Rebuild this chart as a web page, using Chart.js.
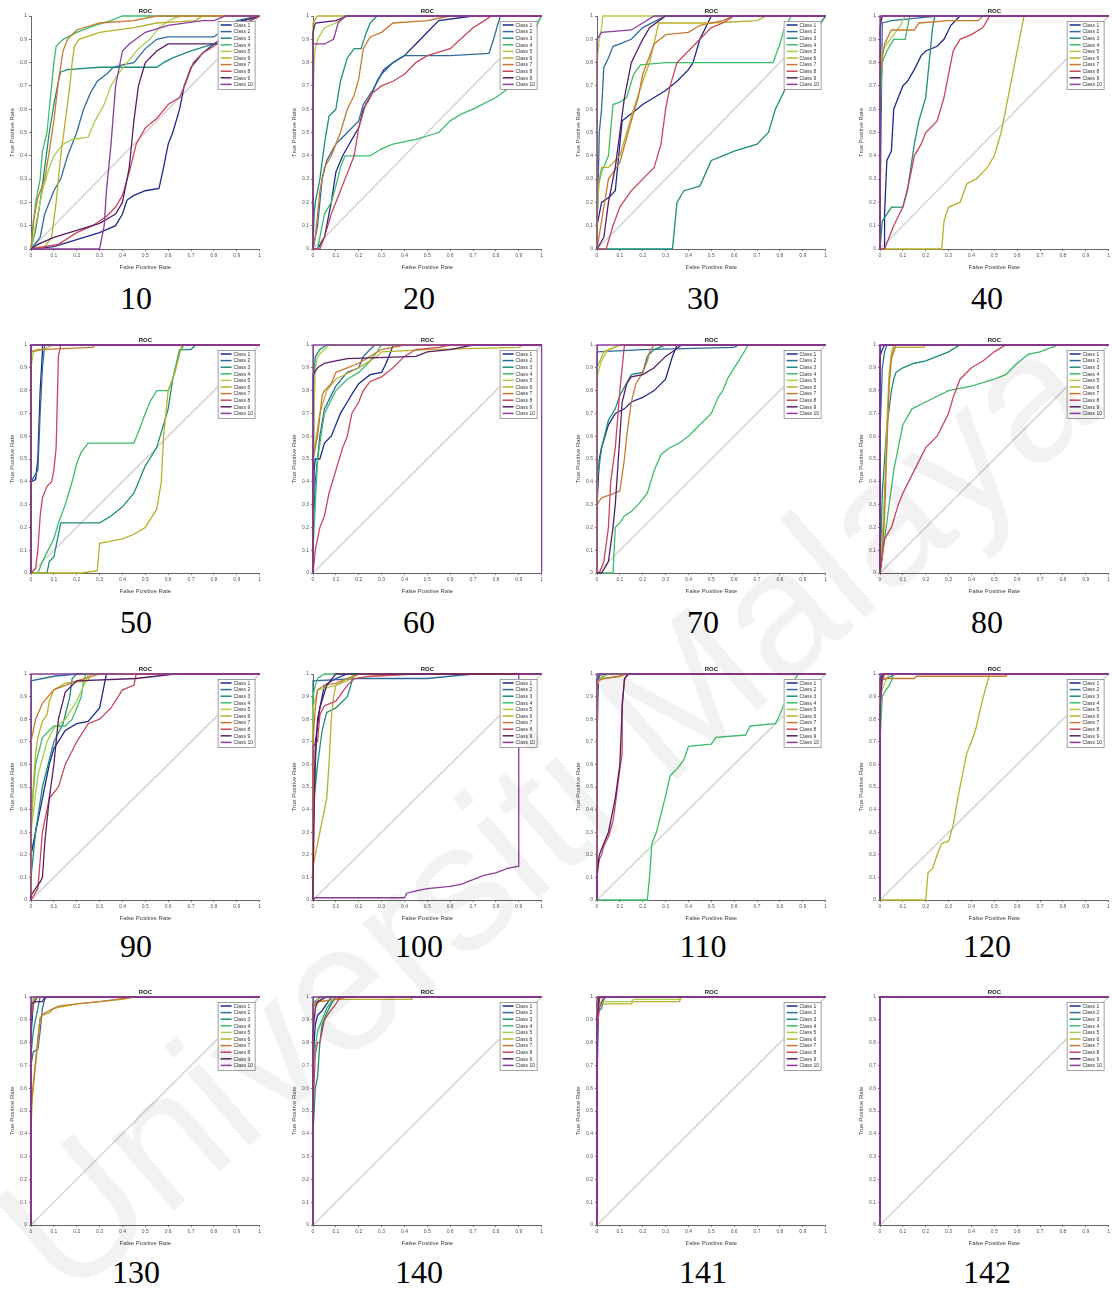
<!DOCTYPE html>
<html>
<head>
<meta charset="utf-8">
<script src="https://cdn.jsdelivr.net/npm/chart.js@4.4.0/dist/chart.umd.min.js"></script>
<style>
  html, body { margin: 0; padding: 0; background: #fff; }
  body { position: relative; width: 1112px; height: 1289px; overflow: hidden; }
  canvas { position: absolute; }
  .cap { position: absolute; font-family: "Liberation Serif", "Times New Roman", serif; font-size: 32px; color: #000; transform: translate(-50%, -50%); white-space: nowrap; }
  .wm { position: absolute; left: 545px; top: 810px; transform: translate(-50%, -50%) rotate(-40.6deg); font-family: "Liberation Sans", Arial, sans-serif; font-size: 180px; color: rgba(0,0,0,0.05); white-space: nowrap; pointer-events: none; z-index: 5; }
</style>
</head>
<body>
<script>
// ---- data: each panel = 10 ROC curves as [fpr, tpr] points ----
const captions = ['10', '20', '30', '40', '50', '60', '70', '80', '90', '100', '110', '120', '130', '140', '141', '142'];
const classNames = ['Class 1', 'Class 2', 'Class 3', 'Class 4', 'Class 5', 'Class 6', 'Class 7', 'Class 8', 'Class 9', 'Class 10'];
const classColors = ['#1b2a8c', '#2f6c9e', '#1e8c7c', '#3dbd6a', '#a4d04a', '#b8b02a', '#c77a32', '#c8465a', '#5a1e66', '#8c3c9c'];

const roc10 = [
  [[0,0],[0.1,0.01],[0.2,0.04],[0.3,0.07],[0.37,0.1],[0.4,0.15],[0.42,0.21],[0.45,0.23],[0.5,0.25],[0.56,0.26],[0.58,0.35],[0.6,0.45],[0.62,0.5],[0.65,0.6],[0.67,0.7],[0.7,0.78],[0.75,0.84],[0.8,0.88],[0.83,0.9],[0.92,0.98],[1,1]],
  [[0,0],[0.04,0.05],[0.06,0.15],[0.1,0.25],[0.13,0.3],[0.16,0.4],[0.2,0.5],[0.23,0.6],[0.26,0.67],[0.29,0.72],[0.33,0.75],[0.36,0.78],[0.4,0.79],[0.45,0.8],[0.5,0.86],[0.55,0.9],[0.6,0.91],[0.8,0.91],[0.85,0.95],[0.9,0.98],[1,1]],
  [[0,0],[0.02,0.08],[0.04,0.2],[0.06,0.35],[0.08,0.5],[0.1,0.62],[0.12,0.72],[0.13,0.76],[0.16,0.77],[0.3,0.78],[0.55,0.78],[0.58,0.8],[0.62,0.82],[0.7,0.85],[0.8,0.88],[0.85,0.9],[0.9,0.95],[1,1]],
  [[0,0],[0.01,0.1],[0.02,0.2],[0.04,0.3],[0.05,0.42],[0.07,0.5],[0.08,0.6],[0.1,0.8],[0.11,0.87],[0.14,0.9],[0.2,0.93],[0.28,0.96],[0.35,0.98],[0.4,1],[1,1]],
  [[0,0],[0.02,0.1],[0.05,0.25],[0.08,0.35],[0.1,0.4],[0.14,0.45],[0.18,0.47],[0.25,0.48],[0.28,0.55],[0.32,0.62],[0.35,0.7],[0.38,0.75],[0.42,0.8],[0.47,0.86],[0.52,0.9],[0.56,0.95],[0.62,0.99],[0.66,1],[1,1]],
  [[0,0],[0.06,0.01],[0.09,0.05],[0.11,0.2],[0.13,0.4],[0.15,0.55],[0.17,0.7],[0.18,0.8],[0.19,0.87],[0.21,0.9],[0.3,0.93],[0.45,0.95],[0.55,0.97],[0.72,0.98],[0.75,1],[1,1]],
  [[0,0],[0.01,0.12],[0.03,0.22],[0.06,0.3],[0.08,0.42],[0.1,0.55],[0.12,0.72],[0.14,0.85],[0.16,0.9],[0.2,0.94],[0.3,0.97],[0.45,0.98],[0.55,1],[1,1]],
  [[0,0],[0.12,0.02],[0.2,0.07],[0.27,0.1],[0.33,0.14],[0.37,0.18],[0.4,0.23],[0.43,0.33],[0.46,0.45],[0.5,0.52],[0.55,0.56],[0.6,0.62],[0.65,0.65],[0.68,0.72],[0.71,0.8],[0.75,0.84],[0.8,0.87],[0.85,0.91],[0.9,0.95],[1,1]],
  [[0,0],[0.03,0.02],[0.1,0.05],[0.2,0.08],[0.3,0.11],[0.37,0.15],[0.4,0.2],[0.43,0.35],[0.45,0.55],[0.47,0.7],[0.5,0.8],[0.55,0.85],[0.6,0.88],[0.82,0.88],[0.9,0.97],[1,1]],
  [[0,0],[0.3,0],[0.32,0.1],[0.33,0.25],[0.35,0.45],[0.37,0.7],[0.4,0.85],[0.43,0.88],[0.5,0.93],[0.6,0.96],[0.75,0.98],[0.8,0.98],[0.85,1],[1,1]]
];
const roc20 = [
  [[0,0],[0.02,0],[0.05,0.05],[0.08,0.2],[0.1,0.33],[0.13,0.4],[0.17,0.47],[0.2,0.52],[0.22,0.6],[0.25,0.65],[0.28,0.72],[0.31,0.77],[0.35,0.8],[0.4,0.83],[0.45,0.88],[0.5,0.93],[0.55,0.98],[0.7,1],[1,1]],
  [[0,0],[0.02,0.1],[0.04,0.3],[0.06,0.38],[0.1,0.45],[0.15,0.5],[0.2,0.55],[0.22,0.62],[0.26,0.68],[0.3,0.75],[0.35,0.8],[0.4,0.83],[0.6,0.83],[0.77,0.84],[0.79,0.9],[0.81,0.97],[0.82,1],[1,1]],
  [[0,0],[0.005,0.15],[0.01,0.2],[0.03,0.3],[0.05,0.45],[0.07,0.57],[0.1,0.6],[0.12,0.72],[0.15,0.82],[0.18,0.86],[0.21,0.86],[0.23,0.92],[0.25,0.97],[0.28,1],[1,1]],
  [[0,0],[0.02,0],[0.05,0.15],[0.08,0.2],[0.1,0.27],[0.12,0.35],[0.14,0.4],[0.25,0.4],[0.3,0.43],[0.35,0.45],[0.45,0.47],[0.55,0.5],[0.6,0.55],[0.65,0.58],[0.7,0.6],[0.8,0.65],[0.87,0.7],[0.95,0.9],[1,1]],
  [[0,0],[0,0.6],[0.005,0.8],[0.01,0.86],[0.02,0.9],[0.05,0.95],[0.1,0.97],[0.15,1],[1,1]],
  [[0,0],[0,0.97],[0.02,1],[1,1]],
  [[0,0],[0.01,0.05],[0.03,0.25],[0.05,0.35],[0.08,0.4],[0.12,0.5],[0.15,0.6],[0.18,0.66],[0.2,0.73],[0.22,0.86],[0.25,0.91],[0.3,0.93],[0.35,0.97],[0.5,0.98],[0.6,1],[1,1]],
  [[0,0],[0.03,0],[0.05,0.05],[0.08,0.15],[0.12,0.25],[0.16,0.35],[0.18,0.4],[0.2,0.52],[0.23,0.62],[0.26,0.67],[0.3,0.7],[0.35,0.72],[0.4,0.75],[0.45,0.8],[0.5,0.83],[0.6,0.86],[0.7,0.95],[0.75,0.98],[0.78,1],[1,1]],
  [[0,0],[0,0.93],[0.01,0.97],[0.1,0.98],[0.15,1],[1,1]],
  [[0,0],[0,0.88],[0.05,0.88],[0.09,0.9],[0.11,0.97],[0.14,1],[1,1]]
];
const roc30 = [
  [[0,0],[0,0.1],[0.02,0.2],[0.05,0.22],[0.08,0.25],[0.1,0.45],[0.11,0.55],[0.15,0.58],[0.2,0.62],[0.25,0.65],[0.3,0.68],[0.35,0.72],[0.4,0.77],[0.42,0.8],[0.45,0.9],[0.5,1],[1,1]],
  [[0,0],[0,0.05],[0.01,0.5],[0.02,0.6],[0.03,0.78],[0.05,0.82],[0.07,0.87],[0.1,0.88],[0.15,0.9],[0.2,0.95],[0.3,1],[1,1]],
  [[0,0],[0.33,0],[0.34,0.1],[0.35,0.2],[0.38,0.25],[0.45,0.27],[0.5,0.38],[0.55,0.4],[0.6,0.42],[0.7,0.45],[0.75,0.5],[0.78,0.6],[0.82,0.68],[0.85,0.75],[0.9,0.85],[1,1]],
  [[0,0],[0,0.25],[0.02,0.33],[0.05,0.4],[0.07,0.62],[0.1,0.63],[0.13,0.65],[0.16,0.75],[0.19,0.79],[0.3,0.8],[0.77,0.8],[0.8,0.88],[0.82,0.95],[0.85,1],[1,1]],
  [[0,0],[0,0.8],[0.01,0.9],[0.02,0.95],[0.025,1],[1,1]],
  [[0,0],[0,0.15],[0.01,0.3],[0.02,0.35],[0.05,0.35],[0.1,0.4],[0.13,0.5],[0.16,0.6],[0.2,0.72],[0.23,0.8],[0.27,0.97],[0.5,0.97],[0.7,0.98],[0.74,1],[1,1]],
  [[0,0],[0.05,0.3],[0.1,0.37],[0.15,0.55],[0.18,0.65],[0.2,0.75],[0.25,0.88],[0.3,0.92],[0.4,0.93],[0.45,0.96],[0.55,0.98],[0.6,1],[1,1]],
  [[0,0],[0.04,0],[0.07,0.1],[0.1,0.18],[0.15,0.25],[0.2,0.3],[0.25,0.35],[0.28,0.45],[0.3,0.6],[0.32,0.7],[0.35,0.8],[0.4,0.85],[0.45,0.9],[0.5,0.95],[0.55,0.97],[0.6,1],[1,1]],
  [[0,0],[0.03,0.05],[0.05,0.2],[0.08,0.35],[0.1,0.5],[0.12,0.65],[0.15,0.8],[0.2,0.9],[0.23,0.95],[0.3,1],[1,1]],
  [[0,0],[0,0.9],[0.02,0.93],[0.15,0.94],[0.2,0.97],[0.25,1],[1,1]]
];
const roc40 = [
  [[0,0],[0.02,0],[0.02,0.15],[0.03,0.38],[0.05,0.42],[0.06,0.6],[0.08,0.65],[0.1,0.7],[0.12,0.72],[0.15,0.77],[0.18,0.83],[0.2,0.85],[0.25,0.87],[0.28,0.9],[0.31,0.96],[0.35,1],[1,1]],
  [[0,0],[0,0.13],[0.01,0.97],[0.05,0.98],[0.15,0.99],[0.25,1],[1,1]],
  [[0,0],[0.01,0.12],[0.03,0.15],[0.05,0.18],[0.1,0.18],[0.12,0.25],[0.15,0.45],[0.17,0.55],[0.2,0.65],[0.22,0.85],[0.23,0.95],[0.24,1],[1,1]],
  [[0,0],[0,0.6],[0.01,0.8],[0.03,0.85],[0.06,0.9],[0.11,0.9],[0.12,0.95],[0.13,1],[1,1]],
  [[0,0],[0,0.75],[0.01,0.85],[0.03,0.88],[0.06,0.92],[0.09,0.96],[0.11,1],[1,1]],
  [[0,0],[0.27,0],[0.28,0.12],[0.3,0.18],[0.35,0.2],[0.38,0.28],[0.42,0.3],[0.47,0.35],[0.5,0.4],[0.53,0.5],[0.55,0.6],[0.57,0.7],[0.6,0.85],[0.63,1],[1,1]],
  [[0,0],[0,0.75],[0.02,0.88],[0.05,0.94],[0.15,0.94],[0.17,0.97],[0.3,0.98],[0.43,0.98],[0.45,1],[1,1]],
  [[0,0],[0.02,0],[0.04,0.05],[0.06,0.1],[0.1,0.18],[0.13,0.3],[0.15,0.4],[0.18,0.45],[0.2,0.5],[0.25,0.55],[0.28,0.65],[0.3,0.75],[0.32,0.85],[0.35,0.9],[0.4,0.92],[0.45,0.95],[0.48,1],[1,1]],
  [[0,0],[0,0.95],[0.01,1],[1,1]],
  [[0,0],[0,1],[1,1]]
];
const roc50 = [
  [[0,0],[0,0.4],[0.02,0.41],[0.03,0.5],[0.04,0.8],[0.05,0.97],[0.05,1],[1,1]],
  [[0,0],[0,0.4],[0.03,0.45],[0.04,0.7],[0.05,0.9],[0.06,1],[1,1]],
  [[0,0],[0.07,0],[0.08,0.05],[0.1,0.07],[0.13,0.22],[0.3,0.22],[0.35,0.25],[0.4,0.29],[0.45,0.35],[0.5,0.47],[0.55,0.55],[0.6,0.72],[0.62,0.85],[0.65,0.98],[0.7,0.98],[0.72,1],[1,1]],
  [[0,0],[0.03,0],[0.05,0.05],[0.1,0.15],[0.12,0.22],[0.15,0.3],[0.18,0.4],[0.2,0.48],[0.22,0.53],[0.25,0.57],[0.45,0.57],[0.47,0.62],[0.5,0.7],[0.52,0.75],[0.55,0.8],[0.6,0.8],[0.62,0.85],[0.65,0.97],[0.67,1],[1,1]],
  [[0,0],[0,0.9],[0.01,0.97],[0.05,0.98],[0.1,1],[1,1]],
  [[0,0],[0.22,0],[0.29,0.01],[0.3,0.13],[0.35,0.14],[0.4,0.15],[0.45,0.17],[0.5,0.2],[0.55,0.28],[0.57,0.4],[0.58,0.6],[0.6,0.8],[0.63,0.88],[0.66,1],[1,1]],
  [[0,0],[0,0.97],[0.03,0.98],[0.27,0.99],[0.28,1],[1,1]],
  [[0,0],[0.02,0.02],[0.03,0.1],[0.04,0.25],[0.05,0.33],[0.07,0.38],[0.09,0.4],[0.1,0.45],[0.11,0.55],[0.12,0.95],[0.13,1],[1,1]],
  [[0,0],[0,1],[1,1]],
  [[0,0],[0,1],[1,1]]
];
const roc60 = [
  [[0,0],[0,0.15],[0.005,0.45],[0.01,0.5],[0.03,0.5],[0.05,0.57],[0.08,0.6],[0.1,0.65],[0.12,0.7],[0.15,0.75],[0.18,0.8],[0.2,0.83],[0.25,0.87],[0.3,0.88],[0.32,0.92],[0.34,0.97],[0.35,1],[1,1]],
  [[0,0],[0,0.15],[0.01,0.4],[0.03,0.6],[0.05,0.72],[0.08,0.78],[0.1,0.82],[0.15,0.88],[0.2,0.9],[0.22,0.95],[0.25,0.98],[0.27,1],[1,1]],
  [[0,0],[0,0.1],[0.005,0.87],[0.01,0.95],[0.03,0.98],[0.06,1],[1,1]],
  [[0,0],[0,0.1],[0.02,0.5],[0.05,0.7],[0.1,0.8],[0.15,0.85],[0.2,0.88],[0.25,0.93],[0.28,0.97],[0.3,1],[1,1]],
  [[0,0],[0,0.5],[0.01,0.9],[0.02,0.95],[0.05,0.98],[0.07,1],[1,1]],
  [[0,0],[0,0.5],[0.03,0.7],[0.06,0.8],[0.1,0.85],[0.2,0.9],[0.28,0.95],[0.3,0.97],[0.5,0.98],[0.9,0.99],[0.92,1],[1,1]],
  [[0,0],[0,0.5],[0.02,0.6],[0.04,0.78],[0.05,0.8],[0.08,0.83],[0.1,0.88],[0.15,0.9],[0.2,0.92],[0.25,0.95],[0.3,0.98],[0.4,1],[1,1]],
  [[0,0],[0.01,0.1],[0.03,0.2],[0.05,0.25],[0.07,0.35],[0.1,0.45],[0.13,0.55],[0.15,0.6],[0.17,0.7],[0.2,0.75],[0.22,0.8],[0.25,0.84],[0.3,0.86],[0.35,0.9],[0.4,0.95],[0.45,0.98],[0.55,0.99],[0.6,1],[1,1]],
  [[0,0],[0,0.87],[0.02,0.9],[0.05,0.92],[0.1,0.93],[0.15,0.94],[0.45,0.95],[0.5,0.97],[0.6,0.98],[0.7,1],[1,1]],
  [[0,0],[0,1],[1,1],[1,0]]
];
const roc70 = [
  [[0,0],[0,0.3],[0.01,0.5],[0.02,0.55],[0.05,0.65],[0.08,0.7],[0.12,0.72],[0.15,0.75],[0.2,0.77],[0.25,0.8],[0.3,0.85],[0.33,0.95],[0.35,1],[1,1]],
  [[0,0],[0,0.97],[0.2,0.98],[0.6,0.99],[0.62,1],[1,1]],
  [[0,0],[0,0.4],[0.02,0.55],[0.05,0.67],[0.08,0.72],[0.1,0.78],[0.15,0.87],[0.2,0.88],[0.22,0.95],[0.25,0.98],[0.3,1],[1,1]],
  [[0,0],[0.07,0],[0.08,0.2],[0.1,0.22],[0.12,0.25],[0.15,0.27],[0.18,0.3],[0.22,0.35],[0.25,0.45],[0.28,0.52],[0.32,0.55],[0.36,0.57],[0.4,0.6],[0.45,0.65],[0.5,0.7],[0.53,0.77],[0.55,0.8],[0.57,0.85],[0.6,0.9],[0.62,0.93],[0.65,0.98],[0.66,1],[1,1]],
  [[0,0],[0,0.85],[0.01,0.9],[0.02,0.93],[0.03,0.95],[0.05,0.98],[0.1,1],[1,1]],
  [[0,0],[0,0.9],[0.03,0.97],[0.08,0.99],[0.1,1],[1,1]],
  [[0,0],[0,0.3],[0.02,0.33],[0.05,0.34],[0.1,0.36],[0.12,0.5],[0.13,0.6],[0.15,0.75],[0.17,0.83],[0.2,0.88],[0.22,0.93],[0.23,0.97],[0.25,1],[1,1]],
  [[0,0],[0.01,0],[0.03,0.05],[0.05,0.2],[0.06,0.4],[0.08,0.55],[0.1,0.8],[0.11,0.9],[0.12,1],[1,1]],
  [[0,0],[0.02,0],[0.05,0.05],[0.07,0.2],[0.08,0.3],[0.1,0.6],[0.11,0.75],[0.13,0.83],[0.15,0.86],[0.2,0.87],[0.25,0.9],[0.3,0.95],[0.33,0.97],[0.37,1],[1,1]],
  [[0,0],[0,1],[1,1]]
];
const roc80 = [
  [[0,0],[0,0.95],[0.01,0.98],[0.02,1],[1,1]],
  [[0,0],[0,0.6],[0.01,0.9],[0.02,0.97],[0.03,1],[1,1]],
  [[0,0],[0.01,0.35],[0.02,0.5],[0.03,0.65],[0.04,0.72],[0.05,0.8],[0.06,0.85],[0.07,0.88],[0.1,0.9],[0.15,0.92],[0.2,0.93],[0.25,0.95],[0.3,0.97],[0.35,1],[1,1]],
  [[0,0],[0.02,0.15],[0.04,0.3],[0.06,0.45],[0.08,0.55],[0.1,0.65],[0.14,0.72],[0.2,0.75],[0.3,0.8],[0.4,0.82],[0.5,0.85],[0.55,0.87],[0.6,0.92],[0.65,0.96],[0.7,0.97],[0.78,1],[1,1]],
  [[0,0],[0.01,0.15],[0.02,0.35],[0.03,0.65],[0.04,0.88],[0.05,0.97],[0.06,1],[1,1]],
  [[0,0],[0.01,0.1],[0.02,0.3],[0.03,0.6],[0.04,0.85],[0.05,0.95],[0.06,0.99],[0.19,0.99],[0.2,1],[1,1]],
  [[0,0],[0.01,0.08],[0.02,0.25],[0.03,0.55],[0.04,0.82],[0.05,0.94],[0.07,1],[1,1]],
  [[0,0],[0.02,0.15],[0.05,0.2],[0.08,0.3],[0.1,0.35],[0.15,0.45],[0.2,0.55],[0.25,0.6],[0.3,0.7],[0.32,0.77],[0.35,0.85],[0.4,0.9],[0.45,0.93],[0.5,0.97],[0.55,1],[1,1]],
  [[0,0],[0,1],[1,1]],
  [[0,0],[0,1],[1,1]]
];
const roc90 = [
  [[0,0],[0,0.2],[0.01,0.25],[0.02,0.3],[0.05,0.45],[0.08,0.6],[0.1,0.67],[0.15,0.75],[0.2,0.78],[0.25,0.79],[0.3,0.85],[0.32,0.95],[0.33,1],[1,1]],
  [[0,0],[0,0.97],[0.1,0.99],[0.2,1],[1,1]],
  [[0,0],[0,0.1],[0.02,0.3],[0.05,0.5],[0.1,0.7],[0.14,0.78],[0.17,0.9],[0.18,0.98],[0.2,1],[1,1]],
  [[0,0],[0,0.35],[0.02,0.6],[0.05,0.72],[0.1,0.77],[0.15,0.77],[0.18,0.8],[0.2,0.85],[0.22,0.9],[0.23,0.97],[0.24,1],[1,1]],
  [[0,0],[0,0.3],[0.03,0.55],[0.07,0.7],[0.1,0.76],[0.15,0.8],[0.2,0.88],[0.24,0.97],[0.25,1],[1,1]],
  [[0,0],[0,0.3],[0.01,0.5],[0.02,0.65],[0.03,0.72],[0.05,0.79],[0.07,0.82],[0.08,0.88],[0.1,0.93],[0.15,0.96],[0.25,0.97],[0.26,1],[1,1]],
  [[0,0],[0,0.7],[0.02,0.8],[0.05,0.87],[0.1,0.93],[0.2,0.97],[0.3,1],[1,1]],
  [[0,0],[0.03,0.05],[0.05,0.3],[0.08,0.45],[0.12,0.5],[0.15,0.6],[0.2,0.7],[0.25,0.78],[0.3,0.8],[0.35,0.85],[0.4,0.93],[0.45,0.95],[0.46,1],[1,1]],
  [[0,0],[0,0.02],[0.02,0.05],[0.04,0.08],[0.05,0.1],[0.06,0.25],[0.08,0.45],[0.1,0.6],[0.12,0.8],[0.15,0.92],[0.2,0.97],[0.46,0.98],[0.63,1],[1,1]],
  [[0,0],[0,1],[1,1]]
];
const roc100 = [
  [[0,0],[0,0.3],[0.01,0.6],[0.02,0.8],[0.04,0.9],[0.05,0.95],[0.1,0.98],[0.15,1],[1,1]],
  [[0,0],[0,0.97],[0.2,0.98],[0.5,0.98],[0.7,1],[1,1]],
  [[0,0],[0,0.4],[0.02,0.6],[0.04,0.75],[0.06,0.83],[0.1,0.85],[0.15,0.9],[0.18,1],[1,1]],
  [[0,0],[0,0.9],[0.01,0.95],[0.02,0.98],[0.05,1],[1,1]],
  [[0,0],[0,0.85],[0.02,0.93],[0.1,0.95],[0.15,0.98],[0.2,1],[1,1]],
  [[0,0],[0,0.15],[0.02,0.25],[0.04,0.35],[0.06,0.45],[0.07,0.6],[0.08,0.8],[0.09,0.9],[0.1,0.95],[0.15,0.97],[0.2,1],[1,1]],
  [[0,0],[0,0.7],[0.01,0.85],[0.02,0.93],[0.05,0.95],[0.1,0.96],[0.15,0.98],[0.2,1],[1,1]],
  [[0,0],[0,0.68],[0.02,0.7],[0.03,0.82],[0.05,0.86],[0.1,0.88],[0.15,0.95],[0.18,0.98],[0.25,0.99],[0.45,1],[1,1]],
  [[0,0],[0,0.05],[0.01,0.7],[0.03,0.85],[0.06,0.95],[0.1,1],[1,1]],
  [[0,0],[0.01,0.01],[0.4,0.01],[0.41,0.03],[0.45,0.04],[0.5,0.05],[0.6,0.06],[0.65,0.07],[0.7,0.09],[0.75,0.11],[0.8,0.12],[0.85,0.14],[0.9,0.15],[0.9,1],[1,1]]
];
const roc110 = [
  [[0,0],[0,0.7],[0.005,0.95],[0.01,1],[1,1]],
  [[0,0],[0,0.98],[0.02,1],[1,1]],
  [[0,0],[0,0.97],[0.03,0.99],[0.05,1],[1,1]],
  [[0,0],[0.22,0],[0.23,0.1],[0.24,0.25],[0.26,0.3],[0.28,0.38],[0.3,0.46],[0.32,0.55],[0.35,0.58],[0.38,0.62],[0.4,0.68],[0.5,0.69],[0.52,0.72],[0.65,0.73],[0.67,0.77],[0.78,0.78],[0.8,0.82],[0.85,0.95],[0.88,1],[1,1]],
  [[0,0],[0,0.95],[0.02,0.99],[0.05,1],[1,1]],
  [[0,0],[0,0.96],[0.02,0.98],[0.1,0.99],[0.12,1],[1,1]],
  [[0,0],[0,0.97],[0.03,0.98],[0.1,0.99],[0.13,1],[1,1]],
  [[0,0],[0,0.1],[0.01,0.18],[0.02,0.2],[0.03,0.24],[0.05,0.28],[0.07,0.35],[0.08,0.42],[0.09,0.5],[0.1,0.58],[0.11,0.65],[0.11,0.87],[0.12,0.97],[0.13,1],[1,1]],
  [[0,0],[0,0.12],[0.01,0.2],[0.03,0.25],[0.05,0.3],[0.08,0.45],[0.1,0.6],[0.11,0.85],[0.12,0.98],[0.14,1],[1,1]],
  [[0,0],[0,1],[1,1]]
];
const roc120 = [
  [[0,0],[0,0.98],[0.02,1],[1,1]],
  [[0,0],[0,0.97],[0.05,0.99],[0.06,1],[1,1]],
  [[0,0],[0,0.95],[0.01,1],[1,1]],
  [[0,0],[0,0.7],[0.01,0.9],[0.02,0.92],[0.04,0.95],[0.05,0.97],[0.06,1],[1,1]],
  [[0,0],[0,0.9],[0.02,0.96],[0.04,1],[1,1]],
  [[0,0],[0.2,0],[0.21,0.12],[0.23,0.14],[0.25,0.2],[0.27,0.25],[0.3,0.26],[0.32,0.33],[0.34,0.45],[0.36,0.55],[0.38,0.65],[0.4,0.7],[0.42,0.76],[0.44,0.85],[0.46,0.93],[0.48,1],[1,1]],
  [[0,0],[0,0.97],[0.02,0.98],[0.15,0.98],[0.16,0.99],[0.55,0.99],[0.56,1],[1,1]],
  [[0,0],[0,0.85],[0.01,0.97],[0.02,1],[1,1]],
  [[0,0],[0,0.8],[0.005,0.95],[0.01,1],[1,1]],
  [[0,0],[0,1],[1,1]]
];
const roc130 = [
  [[0,0],[0,0.83],[0.01,0.97],[0.02,1],[1,1]],
  [[0,0],[0,0.7],[0.01,0.76],[0.03,0.77],[0.04,0.85],[0.05,0.95],[0.06,0.99],[0.07,1],[1,1]],
  [[0,0],[0,0.75],[0.01,0.85],[0.03,0.95],[0.04,1],[1,1]],
  [[0,0],[0,0.9],[0.01,0.98],[0.02,1],[1,1]],
  [[0,0],[0,0.95],[0.01,1],[1,1]],
  [[0,0],[0,0.4],[0.005,0.55],[0.01,0.6],[0.02,0.7],[0.03,0.8],[0.04,0.9],[0.05,0.92],[0.08,0.93],[0.1,0.95],[0.15,0.96],[0.2,0.97],[0.3,0.98],[0.4,0.99],[0.45,1],[1,1]],
  [[0,0],[0,0.5],[0.01,0.62],[0.02,0.72],[0.03,0.82],[0.04,0.91],[0.06,0.93],[0.1,0.95],[0.12,0.96],[0.2,0.97],[0.3,0.98],[0.45,1],[1,1]],
  [[0,0],[0,0.9],[0.01,0.97],[0.03,1],[1,1]],
  [[0,0],[0,0.97],[0.02,0.98],[0.05,0.98],[0.06,1],[1,1]],
  [[0,0],[0,1],[1,1]]
];
const roc140 = [
  [[0,0],[0,0.6],[0.005,0.8],[0.01,0.88],[0.02,0.92],[0.04,0.94],[0.06,0.97],[0.08,1],[1,1]],
  [[0,0],[0,0.97],[0.03,1],[1,1]],
  [[0,0],[0,0.4],[0.01,0.6],[0.02,0.65],[0.03,0.8],[0.04,0.88],[0.06,0.93],[0.08,0.97],[0.1,1],[1,1]],
  [[0,0],[0,0.7],[0.02,0.85],[0.04,0.9],[0.06,0.95],[0.08,0.98],[0.09,1],[1,1]],
  [[0,0],[0,0.95],[0.02,0.99],[0.05,1],[1,1]],
  [[0,0],[0,0.97],[0.02,0.98],[0.1,0.99],[0.43,0.99],[0.44,1],[1,1]],
  [[0,0],[0,0.96],[0.03,0.98],[0.1,0.99],[0.15,1],[1,1]],
  [[0,0],[0,0.5],[0.01,0.75],[0.02,0.8],[0.03,0.8],[0.04,0.85],[0.05,0.9],[0.07,0.93],[0.1,0.97],[0.12,1],[1,1]],
  [[0,0],[0,0.85],[0.01,0.95],[0.02,0.98],[0.06,1],[1,1]],
  [[0,0],[0,1],[1,1]]
];
const roc141 = [
  [[0,0],[0,0.6],[0.005,0.9],[0.01,1],[1,1]],
  [[0,0],[0,0.97],[0.01,1],[1,1]],
  [[0,0],[0,0.93],[0.02,0.95],[0.03,0.99],[0.04,1],[1,1]],
  [[0,0],[0,0.96],[0.02,0.98],[0.03,1],[1,1]],
  [[0,0],[0,0.97],[0.02,0.98],[0.15,0.98],[0.16,0.99],[0.36,0.99],[0.37,1],[1,1]],
  [[0,0],[0,0.95],[0.02,0.97],[0.15,0.97],[0.16,0.98],[0.36,0.98],[0.37,1],[1,1]],
  [[0,0],[0,0.98],[0.02,1],[1,1]],
  [[0,0],[0,0.85],[0.01,0.95],[0.03,1],[1,1]],
  [[0,0],[0,0.9],[0.01,1],[1,1]],
  [[0,0],[0,1],[1,1]]
];
const roc142 = [
  [[0,0],[0,1],[1,1]], [[0,0],[0,1],[1,1]], [[0,0],[0,1],[1,1]], [[0,0],[0,1],[1,1]], [[0,0],[0,1],[1,1]],
  [[0,0],[0,1],[1,1]], [[0,0],[0,1],[1,1]], [[0,0],[0,1],[1,1]], [[0,0],[0,1],[1,1]], [[0,0],[0,1],[1,1]]
];
const chancePoints = [[0,0],[1,1]];

const panels = [roc10, roc20, roc30, roc40, roc50, roc60, roc70, roc80, roc90, roc100, roc110, roc120, roc130, roc140, roc141, roc142];

// ---- layout ----
const colLeft = [31, 313, 597, 880];
const rowTop = [16, 345, 674, 997];
const rowH = [233, 228, 226, 228];
const plotW = 229;
const padL = 22, padT = 16, padR = 3, padB = 22;
const capX = [136, 419, 703, 987];
const capY = [298, 622, 946, 1272];

Chart.defaults.font.family = '"Liberation Sans", Arial, sans-serif';

const rocDecor = {
  id: 'rocDecor',
  afterDatasetsDraw(chart) {
    const { ctx, chartArea: a } = chart;
    const bw = 37, bh = 68, bx = a.right - bw - 5, by = a.top + 5;
    ctx.save();
    ctx.fillStyle = '#fff';
    ctx.fillRect(bx, by, bw, bh);
    ctx.strokeStyle = '#8a8a8a';
    ctx.lineWidth = 0.8;
    ctx.strokeRect(bx + 0.5, by + 0.5, bw, bh);
    ctx.font = '5px "Liberation Sans", Arial, sans-serif';
    ctx.textBaseline = 'middle';
    classNames.forEach((name, i) => {
      const yy = by + 4 + i * 6.6;
      ctx.strokeStyle = classColors[i];
      ctx.lineWidth = 1.5;
      ctx.beginPath();
      ctx.moveTo(bx + 3, yy);
      ctx.lineTo(bx + 14, yy);
      ctx.stroke();
      ctx.fillStyle = '#333';
      ctx.fillText(name, bx + 16, yy + 0.5);
    });
    ctx.restore();
  },
  afterDraw(chart) {
    const { ctx, chartArea: a } = chart;
    ctx.save();
    ctx.font = 'bold 6px "Liberation Sans", Arial, sans-serif';
    ctx.fillStyle = '#222';
    ctx.textAlign = 'center';
    ctx.textBaseline = 'bottom';
    ctx.fillText('ROC', (a.left + a.right) / 2, a.top - 2);
    ctx.restore();
  }
};

function toXY(pts) {
  return pts.map(p => ({ x: p[0], y: p[1] }));
}

function tickLabel(v) {
  return String(Math.round(v * 10) / 10);
}

panels.forEach((curves, idx) => {
  const col = idx % 4, row = Math.floor(idx / 4);
  const h = rowH[row];
  const cv = document.createElement('canvas');
  cv.width = padL + plotW + padR;
  cv.height = padT + h + padB;
  cv.style.left = (colLeft[col] - padL) + 'px';
  cv.style.top = (rowTop[row] - padT) + 'px';
  document.body.appendChild(cv);

  const datasets = [{
    label: 'chance', data: toXY(chancePoints), showLine: true, pointRadius: 0,
    borderColor: '#d3d3d3', borderWidth: 1.5, order: 20
  }];
  curves.forEach((c, i) => {
    datasets.push({
      label: classNames[i], data: toXY(c), showLine: true, pointRadius: 0,
      borderColor: classColors[i], borderWidth: 1.3, tension: 0, order: 10 - i, clip: 3
    });
  });

  new Chart(cv, {
    type: 'scatter',
    data: { datasets },
    options: {
      responsive: false,
      animation: false,
      devicePixelRatio: 1,
      layout: { padding: { top: padT, right: padR, left: 0, bottom: 0 } },
      plugins: { legend: { display: false }, tooltip: { enabled: false } },
      scales: {
        x: {
          type: 'linear', min: 0, max: 1,
          ticks: { stepSize: 0.1, autoSkip: false, maxRotation: 0, font: { size: 5 }, color: '#555', padding: 2, callback: tickLabel },
          grid: { drawOnChartArea: false, tickLength: 2, color: '#777' },
          border: { color: '#666' },
          title: { display: true, text: 'False Positive Rate', font: { size: 6 }, color: '#444', padding: { top: 1, bottom: 0 } },
          afterFit(s) { s.height = padB; }
        },
        y: {
          type: 'linear', min: 0, max: 1,
          ticks: { stepSize: 0.1, autoSkip: false, font: { size: 5 }, color: '#555', padding: 2, callback: tickLabel },
          grid: { drawOnChartArea: false, tickLength: 2, color: '#777' },
          border: { color: '#666' },
          title: { display: true, text: 'True Positive Rate', font: { size: 6 }, color: '#444', padding: { top: 0, bottom: 1 } },
          afterFit(s) { s.width = padL; }
        }
      }
    },
    plugins: [rocDecor]
  });

  const cap = document.createElement('div');
  cap.className = 'cap';
  cap.textContent = captions[idx];
  cap.style.left = capX[col] + 'px';
  cap.style.top = capY[row] + 'px';
  document.body.appendChild(cap);
});

const wm = document.createElement('div');
wm.className = 'wm';
wm.textContent = 'Universiti Malaya';
document.body.appendChild(wm);
</script>
</body>
</html>
